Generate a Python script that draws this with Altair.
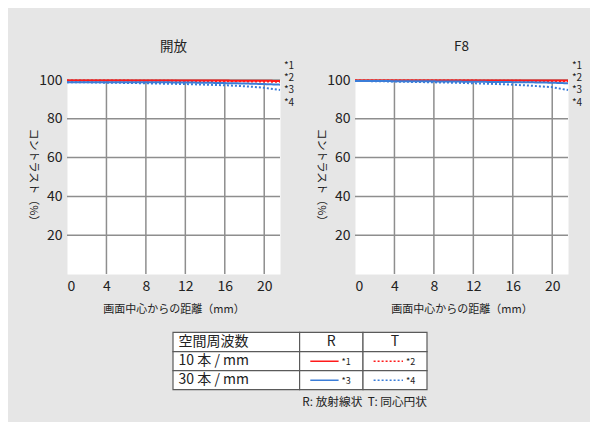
import altair as alt
import pandas as pd

FONT = "Noto Sans CJK JP"
RED = "#ff1a1a"
BLUE = "#3b7dd8"
GRID = "#8e8e8e"
BG = "#e6e6e6"
TXT = "#222222"

# ---------------- data ----------------
DIST = [0, 2, 4, 6, 8, 10, 12, 14, 16, 18, 20, 21.6]
SERIES = ["*1", "*2", "*3", "*4"]

OPEN_1 = [99.7, 99.7, 99.7, 99.7, 99.7, 99.7, 99.7, 99.7, 99.7, 99.6, 99.6, 99.5]
OPEN_2 = [99.7, 99.7, 99.7, 99.7, 99.6, 99.6, 99.5, 99.5, 99.4, 99.3, 99.2, 99.1]
OPEN_3 = [98.8, 98.9, 98.9, 98.9, 98.9, 98.8, 98.7, 98.6, 98.4, 98.2, 97.9, 97.6]
OPEN_4 = [98.8, 98.8, 98.6, 98.5, 98.3, 98.1, 97.9, 97.6, 97.3, 96.8, 96.0, 94.9]

F8_1 = [99.8, 99.8, 99.8, 99.8, 99.8, 99.8, 99.8, 99.8, 99.8, 99.8, 99.7, 99.7]
F8_2 = [99.8, 99.8, 99.8, 99.8, 99.7, 99.7, 99.7, 99.6, 99.6, 99.5, 99.4, 99.3]
F8_3 = [99.5, 99.5, 99.4, 99.4, 99.3, 99.2, 99.1, 99.0, 98.9, 98.8, 98.6, 98.3]
F8_4 = [99.5, 99.4, 99.2, 99.0, 98.8, 98.6, 98.3, 98.0, 97.6, 97.0, 96.3, 94.8]

PANEL_TITLES = ["開放", "F8"]
X_TICKS = [0, 4, 8, 12, 16, 20]
Y_TICKS = [20, 40, 60, 80, 100]
X_GRID = [4, 8, 12, 16, 20]
Y_GRID = [20, 40, 60, 80, 100]
X_TITLE = "画面中心からの距離（mm）"
Y_TITLE = "コントラスト（%）"

HEADER = ["空間周波数", "R", "T"]
ROW_LABELS = ["10 本 / mm", "30 本 / mm"]
NOTE = "R: 放射線状\u00a0 T: 同心円状"

# ---------------- layout constants ----------------
W, H = 213, 194
X_DOMAIN = [0, 21.6]
Y_DOMAIN = [0, 100]
LABEL_X = 22.0
LABEL_Y = [107.3, 100.9, 94.6, 88.4]

TW, TH = 500, 80
COL_EDGES = [106, 232.6, 296, 360]
ROW_EDGES = [0, 19.3, 38.3, 57.3]
NOTE_Y = 69.5

COLORS = [RED, RED, BLUE, BLUE]
DASHES = [[1, 0], [2, 2], [1, 0], [2, 2]]


def long_df(cols):
    rows = []
    for s, vals in zip(SERIES, cols):
        for d, v in zip(DIST, vals):
            rows.append({"dist": d, "contrast": v, "series": s})
    return pd.DataFrame(rows)


xs = alt.Scale(domain=X_DOMAIN, nice=False, zero=False)
ys = alt.Scale(domain=Y_DOMAIN, nice=False)
x_axis = alt.Axis(values=X_TICKS, grid=False, domain=False, ticks=False,
                  labelFontSize=14, labelColor=TXT, labelPadding=5, labelFont=FONT,
                  title=X_TITLE, titleFontSize=11, titleFontWeight="normal",
                  titleColor=TXT, titlePadding=10, titleFont=FONT)
y_axis = alt.Axis(values=Y_TICKS, grid=False, domain=False, ticks=False,
                  labelFontSize=14, labelColor=TXT, labelPadding=5, labelFont=FONT,
                  title=Y_TITLE, titleFontSize=11, titleFontWeight="normal",
                  titleColor=TXT, titleAngle=90, titleX=-35, titleY=97,
                  titleAlign="center", titleBaseline="middle", titleFont=FONT)
color_enc = alt.Color("series:N", scale=alt.Scale(domain=SERIES, range=COLORS), legend=None)
dash_enc = alt.StrokeDash("series:N", scale=alt.Scale(domain=SERIES, range=DASHES), legend=None)


def panel(title, cols):
    df = long_df(cols)
    gx = alt.Chart(pd.DataFrame({"dist": X_GRID})).mark_rule(color=GRID, strokeWidth=1.5).encode(
        x=alt.X("dist:Q", scale=xs, axis=x_axis))
    gy = alt.Chart(pd.DataFrame({"contrast": Y_GRID})).mark_rule(color=GRID, strokeWidth=1.5).encode(
        y=alt.Y("contrast:Q", scale=ys, axis=y_axis))
    lines = alt.Chart(df).mark_line(strokeWidth=2).encode(
        x=alt.X("dist:Q", scale=xs, axis=x_axis),
        y=alt.Y("contrast:Q", scale=ys, axis=y_axis),
        color=color_enc, strokeDash=dash_enc,
        order=alt.Order("dist:Q"))
    lab = alt.Chart(pd.DataFrame({"series": SERIES, "dist": [LABEL_X] * 4, "contrast": LABEL_Y})).mark_text(
        align="left", baseline="middle", fontSize=10, font=FONT, color=TXT).encode(
        x=alt.X("dist:Q", scale=xs, axis=x_axis),
        y=alt.Y("contrast:Q", scale=ys, axis=y_axis),
        text="series:N")
    return alt.layer(gx, gy, lines, lab).properties(
        width=W, height=H,
        title=alt.Title(title, fontSize=13.5, fontWeight="normal", font=FONT, color=TXT, offset=7),
        view=alt.ViewBackground(fill="white", stroke="transparent"))


left = panel(PANEL_TITLES[0], [OPEN_1, OPEN_2, OPEN_3, OPEN_4])
right = panel(PANEL_TITLES[1], [F8_1, F8_2, F8_3, F8_4])

# ---------------- table (legend) ----------------
txs = alt.Scale(domain=[0, TW], nice=False, zero=False)
tys = alt.Scale(domain=[0, TH], nice=False, zero=False, reverse=True)

cells = []
for r in range(3):
    for c in range(3):
        cells.append({"x0": COL_EDGES[c], "x1": COL_EDGES[c + 1],
                      "y0": ROW_EDGES[r], "y1": ROW_EDGES[r + 1]})
cells_df = pd.DataFrame(cells)
mid_r = [(ROW_EDGES[i] + ROW_EDGES[i + 1]) / 2 for i in range(3)]
mid_c = [(COL_EDGES[i] + COL_EDGES[i + 1]) / 2 for i in range(3)]

rect = alt.Chart(cells_df).mark_rect(fill="white", stroke="#5a5a5a", strokeWidth=1.2).encode(
    x=alt.X("x0:Q", scale=txs, axis=None), x2="x1:Q",
    y=alt.Y("y0:Q", scale=tys, axis=None), y2="y1:Q")

left_txt = pd.DataFrame({"t": [HEADER[0]] + ROW_LABELS,
                         "x": [COL_EDGES[0] + 5.6] * 3,
                         "y": mid_r})
ltxt = alt.Chart(left_txt).mark_text(align="left", baseline="middle", fontSize=14, font=FONT, color=TXT).encode(
    x=alt.X("x:Q", scale=txs, axis=None), y=alt.Y("y:Q", scale=tys, axis=None), text="t:N")
head_txt = pd.DataFrame({"t": HEADER[1:], "x": mid_c[1:], "y": [mid_r[0]] * 2})
htxt = alt.Chart(head_txt).mark_text(align="center", baseline="middle", fontSize=14, font=FONT, color=TXT).encode(
    x=alt.X("x:Q", scale=txs, axis=None), y=alt.Y("y:Q", scale=tys, axis=None), text="t:N")

samples = pd.DataFrame({
    "series": SERIES,
    "x0": [COL_EDGES[1] + 10.7, COL_EDGES[2] + 10.6, COL_EDGES[1] + 10.7, COL_EDGES[2] + 10.6],
    "x1": [COL_EDGES[1] + 39, COL_EDGES[2] + 40, COL_EDGES[1] + 39, COL_EDGES[2] + 40],
    "y": [mid_r[1], mid_r[1], mid_r[2], mid_r[2]],
})
srule = alt.Chart(samples).mark_rule(strokeWidth=1.6).encode(
    x=alt.X("x0:Q", scale=txs, axis=None), x2="x1:Q",
    y=alt.Y("y:Q", scale=tys, axis=None),
    color=color_enc, strokeDash=dash_enc)
stxt = alt.Chart(samples).mark_text(align="left", baseline="middle", dx=3, dy=1, fontSize=9, font=FONT, color=TXT).encode(
    x=alt.X("x1:Q", scale=txs, axis=None), y=alt.Y("y:Q", scale=tys, axis=None), text="series:N")

note = alt.Chart(pd.DataFrame({"t": [NOTE], "x": [COL_EDGES[3]], "y": [NOTE_Y]})).mark_text(
    align="right", baseline="middle", fontSize=11.7, font=FONT, color=TXT).encode(
    x=alt.X("x:Q", scale=txs, axis=None), y=alt.Y("y:Q", scale=tys, axis=None), text="t:N")

table = alt.layer(rect, ltxt, htxt, srule, stxt, note).properties(
    width=TW, height=TH, view=alt.ViewBackground(fill="transparent", stroke="transparent"))

top = alt.hconcat(left, right, spacing=75, bounds="flush")
chart = alt.vconcat(top, table, spacing=252.4, bounds="flush").properties(
    background=BG,
    padding={"left": 18, "top": 31, "right": 7, "bottom": 9},
).configure(font=FONT).configure_view(stroke="transparent")

chart.save("out.html", embed_options={"renderer": "svg", "actions": False})
